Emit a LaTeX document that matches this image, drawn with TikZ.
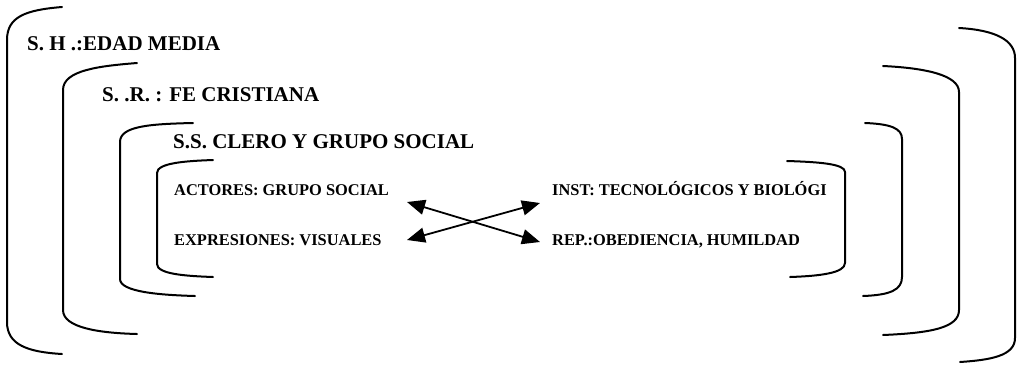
\documentclass[tikz,border=0pt]{standalone}
\usepackage{fontspec}
\setmainfont{Liberation Serif}
\usepackage{tikz}
\usetikzlibrary{arrows.meta,positioning}

\begin{document}
\begin{tikzpicture}[x=1pt, y=-1pt,
    brace/.style={line width=2pt, black, line cap=round},
    level/.style={anchor=base west, inner sep=0pt, font=\fontsize{21}{24}\selectfont\bfseries},
    item/.style={anchor=base west, inner sep=0pt, font=\fontsize{16.4}{19}\selectfont\bfseries},
    arr/.style={{Triangle[length=18pt,width=15pt]}-{Triangle[length=18pt,width=15pt]}, line width=1.8pt}
]
    \useasboundingbox (0,0) rectangle (1019,373);

    % left brackets
    \draw[brace] (62,7) .. controls (25,10) and (7,17) .. (7,40) -- (7,322) .. controls (7,345) and (28,352) .. (62,354);
    \draw[brace] (137,63) .. controls (100,66) and (63,70) .. (63,90) -- (63,310) .. controls (63,328) and (100,333) .. (137,334);
    \draw[brace] (193,123) .. controls (150,124) and (120,126) .. (120,142) -- (120,279) .. controls (120,292) and (160,295) .. (195,296);
    \draw[brace] (213,160) .. controls (185,161) and (157,163) .. (157,173) -- (157,264) .. controls (157,274) and (185,276) .. (213,277);

    % right brackets
    \draw[brace] (959,28) .. controls (995,30) and (1015,40) .. (1015,58) -- (1015,338) .. controls (1015,356) and (990,360) .. (960,362);
    \draw[brace] (883,66) .. controls (925,68) and (959,75) .. (959,92) -- (959,310) .. controls (959,328) and (930,333) .. (883,335);
    \draw[brace] (865,123) .. controls (890,124) and (902,128) .. (902,139) -- (902,277) .. controls (902,290) and (890,295) .. (863,296);
    \draw[brace] (787,161) .. controls (820,162) and (845,164) .. (845,172) -- (845,263) .. controls (845,273) and (820,276) .. (790,277);

    % levels
    \node[level] (sh) at (27,50) {S. H .:EDAD MEDIA};
    \node[level] (sr) at (102,101) {S. .R. : FE CRISTIANA};
    \node[level] (ss) at (173,148) {S.S. CLERO Y GRUPO SOCIAL};

    % items
    \node[item] (actores) at (174,195) {ACTORES: GRUPO SOCIAL};
    \node[item] (expr) at (174,245) {EXPRESIONES: VISUALES};
    \node[item] (inst) at (552,195) {INST: TECNOLÓGICOS Y BIOLÓGI};
    \node[item] (rep) at (552,245) {REP.:OBEDIENCIA, HUMILDAD};

    \coordinate (a1s) at (407,202);
    \coordinate (a1e) at (540,242);
    \coordinate (a2s) at (407,240);
    \coordinate (a2e) at (540,203);

    \draw[arr] (a1s) -- (a1e);
    \draw[arr] (a2s) -- (a2e);
\end{tikzpicture}
\end{document}
